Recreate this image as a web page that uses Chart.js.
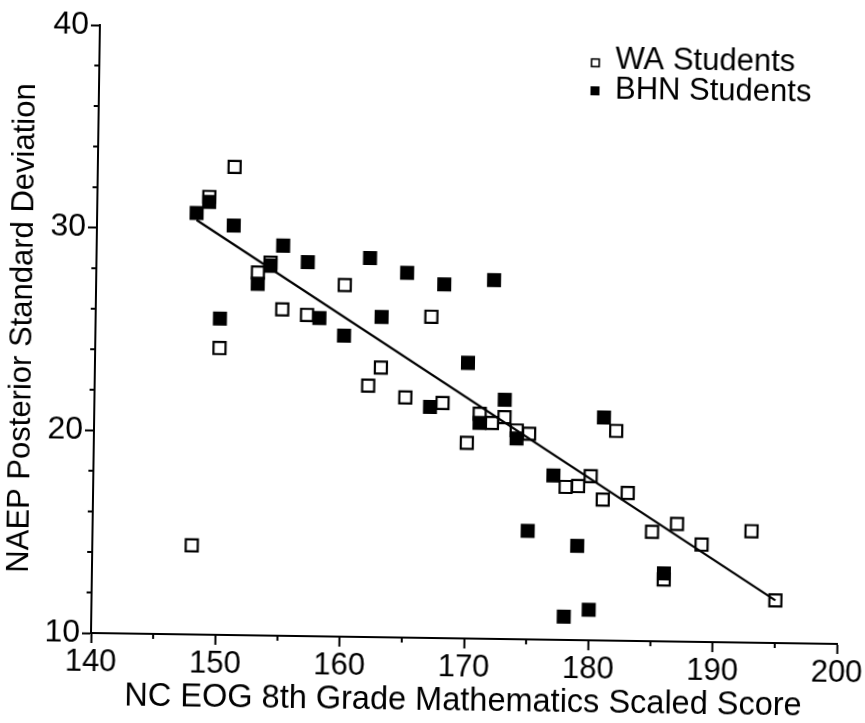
<!DOCTYPE html>
<html lang="en">

<head>
    <meta charset="UTF-8">
    <title>NAEP Posterior Standard Deviation vs NC EOG Score</title>
    <script src="https://cdn.jsdelivr.net/npm/chart.js@4.4.0/dist/chart.umd.min.js"></script>
    <style>
        html, body { margin: 0; padding: 0; background: #fff; }
        /* the scanned figure is tilted a little, so the canvas is too */
        #myChart { display: block; transform: rotate(0.84deg); transform-origin: 91px 633px; }
    </style>
</head>

<body>
    <canvas id="myChart" width="865" height="723"></canvas>
</body>

<script>
    // WA students (open squares)
    const waX = [148, 149, 150, 151, 153, 154, 155, 157, 160, 162, 163, 165, 167, 168, 170, 171,
        172, 173, 174, 175, 178, 179, 180, 181, 182, 183, 185, 186, 187, 189, 193, 195];
    const waY = [14.4, 31.6, 24.15, 33.1, 27.9, 28.4, 26.1, 25.85, 27.35, 22.4, 23.3, 21.85, 25.85, 21.6, 19.65, 21.1,
        20.65, 20.95, 20.3, 20.15, 17.55, 17.6, 18.1, 16.95, 20.35, 17.3, 15.4, 13.05, 15.8, 14.8, 15.5, 12.1];

    // BHN students (filled squares)
    const bhnX = [148, 149, 150, 151, 153, 154, 155, 157, 158, 160, 162, 163, 165, 167, 168, 170,
        171, 172, 173, 174, 175, 177, 178, 179, 180, 181, 186];
    const bhnY = [30.8, 31.35, 25.6, 30.2, 27.35, 28.25, 29.25, 28.45, 25.7, 24.85, 28.7, 25.8, 28.0, 21.4, 27.45, 23.6,
        20.65, 27.7, 21.8, 19.9, 15.35, 18.1, 11.15, 14.65, 11.5, 21.0, 13.35];

    // fitted line end points
    const fitX = [148, 195];
    const fitY = [30.45, 12.1];

    // axes
    const xMin = 140, xMax = 200, xMajor = 10, xMinor = 5;
    const yMin = 10, yMax = 40, yMajor = 10, yMinor = 2;

    const legendLabels = ["WA Students", "BHN Students"];
    const xTitle = "NC EOG 8th Grade Mathematics Scaled Score";
    const yTitle = "NAEP Posterior Standard Deviation";

    const FONT = '"Liberation Sans", Arial, Helvetica, sans-serif';

    function toPoints(xs, ys) {
        return xs.map((x, i) => ({ x: x, y: ys[i] }));
    }

    // small ticks between the labelled ones
    const minorTicks = {
        id: 'minorTicks',
        afterDraw(chart) {
            const ctx = chart.ctx;
            const xs = chart.scales.x, ys = chart.scales.y;
            const area = chart.chartArea;
            ctx.save();
            ctx.strokeStyle = '#000';
            ctx.lineWidth = 2;
            ctx.beginPath();
            for (let v = xMin + xMinor; v < xMax; v += xMinor) {
                if (v % xMajor === 0) continue;
                const px = xs.getPixelForValue(v);
                ctx.moveTo(px, area.bottom);
                ctx.lineTo(px, area.bottom + 5);
            }
            for (let v = yMin + yMinor; v < yMax; v += yMinor) {
                if (v % yMajor === 0) continue;
                const py = ys.getPixelForValue(v);
                ctx.moveTo(area.left, py);
                ctx.lineTo(area.left - 5, py);
            }
            ctx.stroke();
            ctx.restore();
        }
    };

    // legend in the top right corner of the plot
    const cornerLegend = {
        id: 'cornerLegend',
        afterDraw(chart) {
            const ctx = chart.ctx;
            const sets = [chart.data.datasets[1], chart.data.datasets[0]];
            ctx.save();
            ctx.font = '31px ' + FONT;
            ctx.textBaseline = 'alphabetic';
            sets.forEach((ds, i) => {
                const cy = 55.5 + i * 28;
                const mx = 587;
                if (ds.backgroundColor === '#000') {
                    ctx.fillStyle = '#000';
                    ctx.fillRect(mx - 4.5, cy - 4.5, 9, 9);
                } else {
                    ctx.strokeStyle = '#000';
                    ctx.lineWidth = 1.6;
                    ctx.strokeRect(mx - 3.8, cy - 3.8, 7.6, 7.6);
                }
                ctx.fillStyle = '#000';
                ctx.fillText(legendLabels[i], 607, 61 + i * 30);
            });
            ctx.restore();
        }
    };

    const ctx = document.getElementById('myChart').getContext('2d');
    const myChart = new Chart(ctx, {
        type: 'scatter',
        data: {
            datasets: [{
                label: legendLabels[1],
                data: toPoints(bhnX, bhnY),
                pointStyle: 'rect',
                pointRadius: 8.5,
                borderWidth: 2,
                borderColor: '#000',
                backgroundColor: '#000',
                order: 0
            }, {
                label: legendLabels[0],
                data: toPoints(waX, waY),
                pointStyle: 'rect',
                pointRadius: 8.5,
                borderWidth: 2.2,
                borderColor: '#000',
                backgroundColor: 'rgba(0,0,0,0)',
                order: 1
            }, {
                type: 'line',
                label: 'fit',
                data: toPoints(fitX, fitY),
                showLine: true,
                pointRadius: 0,
                borderWidth: 2.2,
                borderColor: '#000',
                fill: false,
                order: 2
            }]
        },
        options: {
            responsive: false,
            animation: false,
            devicePixelRatio: 1,
            layout: { padding: { top: 25, right: 28, bottom: 0, left: 0 } },
            plugins: {
                legend: { display: false },
                tooltip: { enabled: false }
            },
            scales: {
                x: {
                    type: 'linear',
                    min: xMin,
                    max: xMax,
                    afterFit: s => { s.height = 90; s.paddingLeft = 0; s.paddingRight = 0; },
                    border: { color: '#000', width: 2 },
                    grid: { drawOnChartArea: false, drawTicks: true, tickLength: 10, tickWidth: 2, color: '#000' },
                    ticks: {
                        stepSize: xMajor,
                        padding: 1,
                        color: '#000',
                        font: { family: FONT, size: 31 }
                    },
                    title: {
                        display: true,
                        text: xTitle,
                        color: '#000',
                        font: { family: FONT, size: 32.5 },
                        padding: { top: 0, bottom: 7 }
                    }
                },
                y: {
                    type: 'linear',
                    min: yMin,
                    max: yMax,
                    afterFit: s => { s.width = 91; s.paddingTop = 0; s.paddingBottom = 0; },
                    border: { color: '#000', width: 2 },
                    grid: { drawOnChartArea: false, drawTicks: true, tickLength: 9, tickWidth: 2, color: '#000' },
                    ticks: {
                        stepSize: yMajor,
                        padding: 2,
                        color: '#000',
                        font: { family: FONT, size: 32 }
                    },
                    title: {
                        display: true,
                        text: yTitle,
                        color: '#000',
                        font: { family: FONT, size: 31 },
                        padding: { top: 0, bottom: 0 }
                    }
                }
            }
        },
        plugins: [minorTicks, cornerLegend]
    });
</script>

</html>
